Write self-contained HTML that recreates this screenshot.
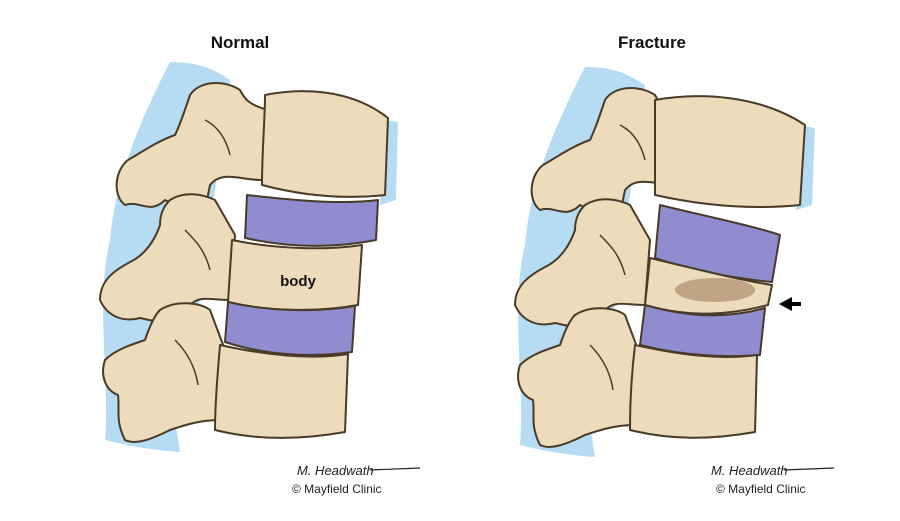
<!DOCTYPE html>
<html><head><meta charset="utf-8"><style>
html,body{margin:0;padding:0;background:#fff;}
svg{display:block}
text{font-family:"Liberation Sans",sans-serif}
</style></head><body>
<svg width="900" height="521" viewBox="0 0 900 521" xmlns="http://www.w3.org/2000/svg">
<defs>
<g id="post">
 <path d="M170,62 C200,62 215,70 230,80 L200,300 L175,420 L180,452 C150,450 125,445 105,440 C110,380 95,300 110,240 C115,180 140,120 170,62Z" fill="#b6dcf3"/>
 <g fill="#ecdcbc" stroke="#4a3a28" stroke-width="2" stroke-linejoin="round">
  <path d="M190,95 C200,80 225,80 240,90 C245,100 250,105 268,110 L262,180 C240,180 222,170 210,185 L205,210 C190,215 175,205 165,200 C150,215 140,200 125,205 C112,195 115,170 128,160 C145,150 160,140 175,135 C180,125 185,110 190,95Z"/>
  <path d="M170,200 C185,190 205,195 215,200 L235,235 L230,300 C210,300 200,295 190,305 L180,320 C165,325 150,320 140,318 C125,322 108,318 100,300 C100,280 115,270 130,262 C145,255 155,240 160,225 C160,212 165,205 170,200Z"/>
  <path d="M160,310 C175,300 200,302 210,310 L225,350 L220,420 C200,420 185,425 170,430 C150,440 135,445 125,440 C115,420 120,410 118,395 C105,390 100,375 105,360 C115,350 130,345 145,340 C150,325 155,315 160,310Z"/>
 </g>
 <g fill="none" stroke="#4a3a28" stroke-width="1.5">
  <path d="M205,120 C215,125 225,135 230,155"/>
  <path d="M185,230 C195,240 205,250 210,270"/>
  <path d="M175,340 C185,350 195,365 198,385"/>
 </g>
</g>
</defs>

<text x="240" y="48" font-size="17" font-weight="bold" text-anchor="middle" fill="#111">Normal</text>
<text x="652" y="48" font-size="17" font-weight="bold" text-anchor="middle" fill="#111">Fracture</text>

<use href="#post"/>
<path d="M385,120 L398,122 L396,200 L380,205Z" fill="#b6dcf3"/>
<g stroke="#4a3a28" stroke-width="2" stroke-linejoin="round">
 <path d="M265,95 C300,88 350,88 388,118 L385,195 C340,200 300,195 262,185 C262,150 265,120 265,95Z" fill="#ecdcbc"/>
 <path d="M247,195 C290,200 340,205 378,200 L376,240 C335,248 290,248 245,238Z" fill="#8f8cd0"/>
 <path d="M232,240 C280,250 330,250 362,245 L358,305 C320,312 270,312 228,302Z" fill="#ecdcbc"/>
 <path d="M228,302 C270,312 320,312 355,306 L352,352 C310,358 265,355 225,342Z" fill="#8f8cd0"/>
 <path d="M220,345 C265,355 310,360 348,354 L345,432 C300,440 255,440 215,430 C215,400 218,370 220,345Z" fill="#ecdcbc"/>
</g>
<text x="298" y="286" font-size="15" font-weight="bold" text-anchor="middle" fill="#111">body</text>

<g transform="translate(415,5)"><use href="#post"/></g>
<path d="M800,125 L815,128 L812,205 L796,210Z" fill="#b6dcf3"/>
<g stroke="#4a3a28" stroke-width="2" stroke-linejoin="round">
 <path d="M655,100 C700,92 760,95 805,125 L800,205 C750,210 700,205 655,195 C655,160 655,130 655,100Z" fill="#ecdcbc"/>
 <path d="M660,205 C700,215 750,225 780,235 L772,282 C730,278 690,270 655,258Z" fill="#8f8cd0"/>
 <path d="M650,258 C700,270 740,280 772,285 L768,305 C730,315 690,318 645,305Z" fill="#ecdcbc"/>
 <path d="M645,305 C690,318 730,318 765,308 L760,355 C720,358 680,355 640,345Z" fill="#8f8cd0"/>
 <path d="M635,345 C680,355 720,360 757,355 L755,432 C710,440 670,440 630,430 C630,400 632,370 635,345Z" fill="#ecdcbc"/>
</g>
<ellipse cx="715" cy="290" rx="40" ry="12" fill="#9c7658" opacity="0.55"/>
<path d="M801,304 L790,304" stroke="#000" stroke-width="4"/>
<path d="M779,304 L792,297 L792,311Z" fill="#000"/>

<text x="297" y="475" font-size="13" font-style="italic" font-family="Liberation Serif,serif" fill="#222">M. Headwath</text>
<path d="M370,470 L420,468" stroke="#222" stroke-width="1.2"/>
<text x="292" y="493" font-size="12" fill="#222">© Mayfield Clinic</text>
<text x="711" y="475" font-size="13" font-style="italic" font-family="Liberation Serif,serif" fill="#222">M. Headwath</text>
<path d="M784,470 L834,468" stroke="#222" stroke-width="1.2"/>
<text x="716" y="493" font-size="12" fill="#222">© Mayfield Clinic</text>
</svg>
</body></html>
